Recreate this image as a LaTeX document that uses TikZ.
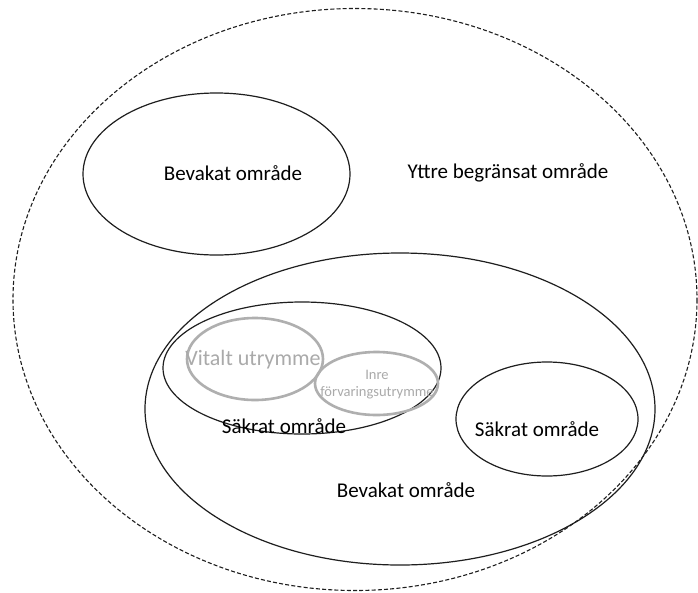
\documentclass[tikz,border=0pt]{standalone}
\usepackage{fontspec}
\setmainfont{Carlito}
\definecolor{greyline}{RGB}{175,175,175}
\definecolor{greytext}{RGB}{170,170,170}
\definecolor{inkline}{RGB}{30,30,30}
\tikzset{
  zone/.style={draw=inkline, line width=1.2pt},
  outerzone/.style={draw=inkline, line width=1.1pt, dash pattern=on 4pt off 2.2pt},
  greyzone/.style={draw=greyline, line width=2.6pt},
  lbl/.style={font=\fontsize{21}{24}\selectfont, text=black, inner sep=0pt},
  greylbl/.style={font=\fontsize{22}{25}\selectfont, text=greytext, inner sep=0pt},
  smallgreylbl/.style={font=\fontsize{14.5}{17}\selectfont, text=greytext, inner sep=0pt, align=center}
}
\begin{document}
\begin{tikzpicture}[x=1pt,y=-1pt]
\useasboundingbox (0,0) rectangle (698,592);
\fill[white] (0,0) rectangle (698,592);
% outer dashed zone
\draw[outerzone] (355,299.5) ellipse [x radius=342, y radius=291];
% top guarded area
\draw[zone] (216.5,174) ellipse [x radius=133.5, y radius=81];
% large guarded area
\draw[zone] (400,409) ellipse [x radius=255, y radius=156];
% left secured area
\draw[zone] (302,368) ellipse [x radius=139, y radius=66];
% right secured area
\draw[zone] (547,419) ellipse [x radius=91, y radius=57];
% grey areas
\draw[greyzone] (255,359) ellipse [x radius=68, y radius=41];
\draw[greyzone] (376.5,383.5) ellipse [x radius=61.5, y radius=31.5];
% labels
\node[lbl] (bev1) at (233,173) {Bevakat område};
\node[lbl] (yttre) at (508,173) {Yttre begränsat område};
\node[greylbl] (vital) at (253,360) {Vitalt utrymme};
\node[smallgreylbl] (inre) at (377,385) {Inre\\förvaringsutrymme};
\node[lbl] (sak1) at (284,426) {Säkrat område};
\node[lbl] (sak2) at (537,429) {Säkrat område};
\node[lbl] (bev2) at (406,490) {Bevakat område};
\end{tikzpicture}
\end{document}
